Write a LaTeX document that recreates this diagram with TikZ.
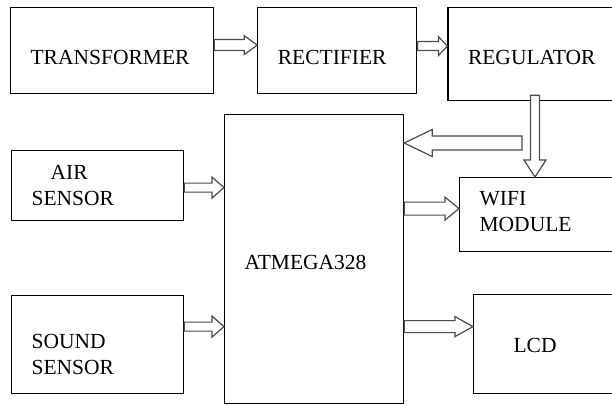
\documentclass[tikz,border=0pt]{standalone}
\usepackage{fontspec}
\setmainfont{Liberation Serif}
\usetikzlibrary{positioning,calc}

\newcommand{\hblock}[5]{%
  \draw[hollow] let \p1=(#1), \p2=(#2), \n1={\x2-sign(\x2-\x1)*#5} in
    (\x1,\y1+#3) -- (\n1,\y1+#3) -- (\n1,\y1+#4) -- (\x2,\y1) -- (\n1,\y1-#4) -- (\n1,\y1-#3) -- (\x1,\y1-#3) -- cycle;}
\newcommand{\vblock}[5]{%
  \draw[hollow] let \p1=(#1), \p2=(#2), \n1={\y2-sign(\y2-\y1)*#5} in
    (\x1+#3,\y1) -- (\x1+#3,\n1) -- (\x1+#4,\n1) -- (\x1,\y2) -- (\x1-#4,\n1) -- (\x1-#3,\n1) -- (\x1-#3,\y1) -- cycle;}

\begin{document}
\begin{tikzpicture}[
    x=1pt, y=-1pt,
    box/.style n args={3}{rectangle, draw=black, line width=1.2pt, inner xsep=20pt, inner ysep=0pt, align=left, text width=#1, minimum width=#2, minimum height=#3, anchor=north west, font=\fontsize{21.5}{26}\selectfont},
    lift/.style 2 args={text height=#1, text depth=#2},
    hollow/.style={draw=black!70, fill=white, line width=1.2pt, line join=miter}
]
    \useasboundingbox (0,0) rectangle (612,404);
    \clip (0,0) rectangle (612,404);

    \node[box={163pt}{203pt}{86pt}, lift={28pt}{0pt}] (trans) at (10,7) {TRANSFORMER};
    \node[box={119pt}{159pt}{86pt}, lift={28pt}{0pt}, right=43pt of trans] (rect) {RECTIFIER};
    \node[box={134pt}{174pt}{93pt}, lift={21pt}{0pt}] (reg) at ([xshift=30pt]rect.north east) {REGULATOR};
    \node[box={139pt}{179pt}{289pt}, lift={21pt}{0pt}] (atm) at (224,114) {ATMEGA328};
    \node[box={132pt}{172pt}{70pt}, lift={0pt}{12pt}] (air) at (11,150) {\hspace*{19pt}AIR\\SENSOR};
    \node[box={132pt}{172pt}{98pt}, lift={8pt}{0pt}] (sound) at (11,295) {SOUND\\SENSOR};
    \node[box={120pt}{160pt}{74pt}, lift={0pt}{18pt}] (wifi) at (459,177) {WIFI\\MODULE};
    \node[box={106pt}{146pt}{99pt}, lift={17pt}{0pt}] (lcd) at (473,294) {\hspace*{20pt}LCD};
    \coordinate (feed) at (522,143);

    \hblock{[yshift=5.5pt]trans.east}{rect.west}{5.5pt}{9.5pt}{13pt}
    \hblock{[yshift=4.5pt]rect.east}{reg.west}{4.5pt}{9.5pt}{9pt}
    \vblock{[yshift=6pt]reg.south}{wifi.north}{4.5pt}{11pt}{17pt}
    \hblock{feed}{atm.east}{7pt}{13.5pt}{28pt}
    \hblock{[yshift=50.5pt]atm.east}{wifi.west}{6.5pt}{11.5pt}{14pt}
    \hblock{[yshift=-2pt]air.east}{atm.west}{4.5pt}{10.5pt}{12pt}
    \hblock{[yshift=18pt]sound.east}{atm.west}{4.5pt}{10.5pt}{12pt}
    \hblock{[yshift=-67.5pt]atm.east}{lcd.west}{6pt}{10pt}{18pt}
\end{tikzpicture}
\end{document}
